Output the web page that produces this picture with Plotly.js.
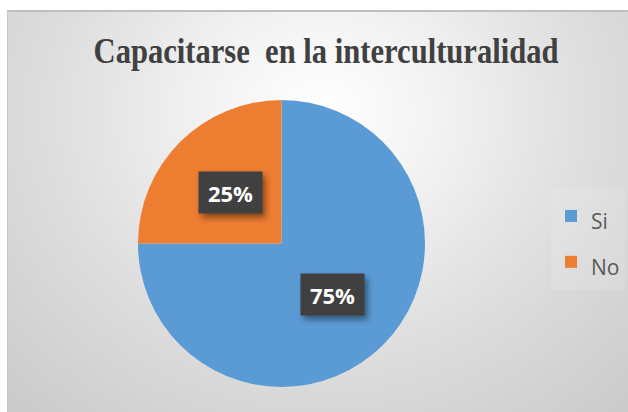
<!DOCTYPE html>
<html>
<head>
<meta charset="utf-8">
<script src="https://cdn.plot.ly/plotly-3.0.1.min.js"></script>
<style>
  html, body { margin: 0; padding: 0; background: #ffffff; }
  #wrap { position: relative; width: 628px; height: 412px; overflow: hidden; }
  #bg {
    position: absolute; left: 7px; top: 10px; width: 640px; height: 420px;
    border-top: 2px solid #BEBEBE; border-left: 1px solid #C8C8C8;
    background: radial-gradient(ellipse 70% 95% at 49% 24%, #ffffff 0%, #f3f3f3 25%, #dedede 60%, #cbcbcb 100%);
  }
  #chart { position: absolute; left: 0; top: 0; width: 628px; height: 412px; }
  g.annotation rect.bg { filter: drop-shadow(3px 4px 3px rgba(0,0,0,0.45)); }
  text.gtitle { transform-box: fill-box; transform-origin: center; transform: scaleX(0.85); }
</style>
</head>
<body>
<div id="wrap">
  <div id="bg"></div>
  <div id="chart"></div>
</div>
<script>
// ---- data ----
const titleText = "Capacitarse  en la interculturalidad";
const labels = ["Si", "No"];
const values = [75, 25];
const sliceColors = ["#5B9BD5", "#ED7D31"];

// ---- layout geometry ----
const W = 628, H = 412;
const pieDomainX = [138 / W, 425 / W];
const pieDomainY = [1 - 387 / H, 1 - 100 / H];

// label positions derived from the data (mid-angle of each slice, clockwise from 12 o'clock)
const total = values.reduce((a, b) => a + b, 0);
const cxPx = (pieDomainX[0] + pieDomainX[1]) / 2 * W;
const cyPx = (1 - (pieDomainY[0] + pieDomainY[1]) / 2) * H;
const Rpx = Math.min((pieDomainX[1] - pieDomainX[0]) * W, (pieDomainY[1] - pieDomainY[0]) * H) / 2;
let cum = 0;
const annotations = values.map((v, i) => {
  const mid = (cum + v / 2) / total;
  cum += v;
  const th = 2 * Math.PI * mid;
  const px = cxPx + 0.5 * Rpx * Math.sin(th);
  const py = cyPx - 0.5 * Rpx * Math.cos(th);
  return {
    x: px / W, y: 1 - py / H, xref: "paper", yref: "paper",
    xanchor: "center", yanchor: "middle", showarrow: false,
    text: Math.round(v / total * 100) + "%",
    font: { family: "Open Sans", size: 22, color: "#ffffff", weight: "bold" },
    bgcolor: "#404040", width: 63, height: 41, borderpad: 0
  };
});

const trace = {
  type: "pie",
  labels: labels.map(l => '<span style="font-size:21px">' + l + '</span>'),
  values: values,
  sort: false,
  direction: "clockwise",
  rotation: 0,
  marker: { colors: sliceColors, line: { width: 0 } },
  textinfo: "none",
  hoverinfo: "none",
  domain: { x: pieDomainX, y: pieDomainY }
};

const layout = {
  width: W, height: H,
  margin: { l: 0, r: 0, t: 0, b: 0 },
  paper_bgcolor: "rgba(0,0,0,0)",
  plot_bgcolor: "rgba(0,0,0,0)",
  title: {
    text: titleText,
    font: { family: "Liberation Serif", size: 36, color: "#404040", weight: "bold" },
    x: 326 / W, xanchor: "center",
    y: 1 - 50 / H, yanchor: "middle", xref: "paper", yref: "paper"
  },
  showlegend: true,
  legend: {
    x: 551 / W, xanchor: "left",
    y: 1 - 239 / H, yanchor: "middle",
    font: { family: "Open Sans", size: 33, color: "#595959" },
    bgcolor: "rgba(255,255,255,0.12)",
    traceorder: "normal"
  },
  annotations: annotations
};

Plotly.newPlot("chart", [trace], layout, { displayModeBar: false, staticPlot: true });
</script>
</body>
</html>
